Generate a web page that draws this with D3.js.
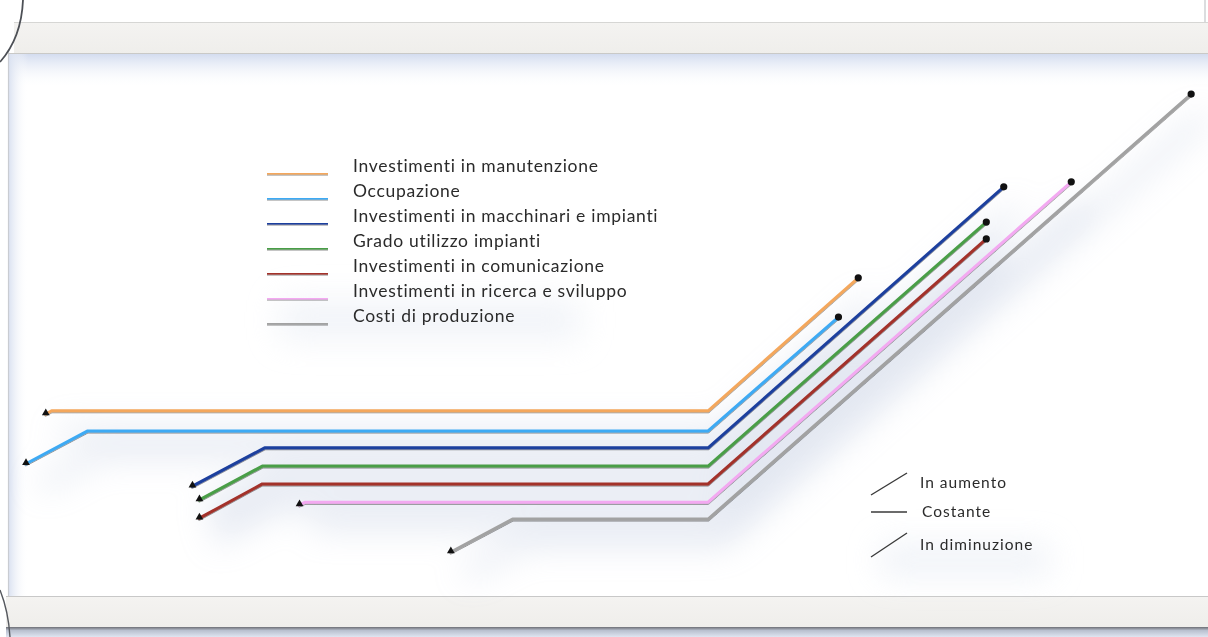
<!DOCTYPE html>
<html>
<head>
<meta charset="utf-8">
<script src="https://cdn.jsdelivr.net/npm/d3@7"></script>
<style>
  html, body { margin: 0; padding: 0; background: #fff; overflow: hidden; }
  svg { display: block; }
</style>
</head>
<body>
<svg id="chart" width="1208" height="637"></svg>
<script>
// Series: trend of each indicator (time on x, index level on y)
const seriesNames = [
  "Investimenti in manutenzione",
  "Occupazione",
  "Investimenti in macchinari e impianti",
  "Grado utilizzo impianti",
  "Investimenti in comunicazione",
  "Investimenti in ricerca e sviluppo",
  "Costi di produzione"
];
const seriesColors = ["#f4a75c", "#3eaaf4", "#1e3f9e", "#4a9e47", "#a3302a", "#f3a9f1", "#a2a2a2"];

const xManutenzione   = [1.7, 2.2, 58.6, 71.5];
const yManutenzione   = [30.2, 30.9, 30.9, 60.0];
const xOccupazione    = [0.0, 5.3, 58.6, 69.8];
const yOccupazione    = [19.3, 26.5, 26.5, 51.4];
const xMacchinari     = [14.3, 20.5, 58.6, 84.0];
const yMacchinari     = [14.4, 22.8, 22.8, 79.9];
const xGrado          = [14.9, 20.3, 58.6, 82.5];
const yGrado          = [11.4, 18.8, 18.8, 72.2];
const xComunicazione  = [14.9, 20.3, 58.6, 82.5];
const yComunicazione  = [7.4, 14.9, 14.9, 68.5];
const xRicerca        = [23.5, 24.0, 58.6, 89.8];
const yRicerca        = [10.3, 10.9, 10.9, 81.0];
const xCosti          = [36.5, 41.8, 58.6, 100.1];
const yCosti          = [0.0, 7.2, 7.2, 100.2];

const seriesX = [xManutenzione, xOccupazione, xMacchinari, xGrado, xComunicazione, xRicerca, xCosti];
const seriesY = [yManutenzione, yOccupazione, yMacchinari, yGrado, yComunicazione, yRicerca, yCosti];

const trendLabels = ["In aumento", "Costante", "In diminuzione"];

const W = 1208, H = 637;
const svg = d3.select("#chart");
const defs = svg.append("defs");

const x = d3.scaleLinear().domain([0, 100]).range([26, 1190]);
const y = d3.scaleLinear().domain([0, 100]).range([552, 95]);

// ---------- gradients & filters ----------
const gTop = defs.append("linearGradient").attr("id", "innerTop").attr("x1", 0).attr("y1", 0).attr("x2", 0).attr("y2", 1);
gTop.append("stop").attr("offset", "0%").attr("stop-color", "#d3dcef");
gTop.append("stop").attr("offset", "100%").attr("stop-color", "#ffffff").attr("stop-opacity", 0);

const gLeft = defs.append("linearGradient").attr("id", "innerLeft").attr("x1", 0).attr("y1", 0).attr("x2", 1).attr("y2", 0);
gLeft.append("stop").attr("offset", "0%").attr("stop-color", "#d8e0f0");
gLeft.append("stop").attr("offset", "100%").attr("stop-color", "#ffffff").attr("stop-opacity", 0);

const gBand = defs.append("linearGradient").attr("id", "band").attr("x1", 0).attr("y1", 0).attr("x2", 0).attr("y2", 1);
gBand.append("stop").attr("offset", "0%").attr("stop-color", "#f4f3f1");
gBand.append("stop").attr("offset", "100%").attr("stop-color", "#efeeeb");

const gBottomShade = defs.append("linearGradient").attr("id", "bottomShade").attr("x1", 0).attr("y1", 0).attr("x2", 0).attr("y2", 1);
gBottomShade.append("stop").attr("offset", "0%").attr("stop-color", "#6d6f75");
gBottomShade.append("stop").attr("offset", "35%").attr("stop-color", "#b9c0cf");
gBottomShade.append("stop").attr("offset", "100%").attr("stop-color", "#dfe5f1");

// filters use the whole canvas as region so flat (zero-height) lines still render
const fLine = defs.append("filter").attr("id", "lineShadow")
  .attr("filterUnits", "userSpaceOnUse").attr("x", 0).attr("y", 0).attr("width", W).attr("height", H);
fLine.append("feDropShadow").attr("dx", 0).attr("dy", 1).attr("stdDeviation", 0.7)
  .attr("flood-color", "#000").attr("flood-opacity", 0.45);

const fSoft = defs.append("filter").attr("id", "softShadow")
  .attr("filterUnits", "userSpaceOnUse").attr("x", 0).attr("y", 0).attr("width", W).attr("height", H);
fSoft.append("feGaussianBlur").attr("stdDeviation", 16);

const fText = defs.append("filter").attr("id", "textSoft");
fText.append("feGaussianBlur").attr("stdDeviation", 0.35);

// ---------- frame ----------
svg.append("rect").attr("width", W).attr("height", H).attr("fill", "#ffffff");

// plot panel
svg.append("rect").attr("x", 8).attr("y", 54).attr("width", W - 8).attr("height", 542).attr("fill", "#ffffff");
svg.append("rect").attr("x", 8).attr("y", 54).attr("width", W - 8).attr("height", 34).attr("fill", "url(#innerTop)");
svg.append("rect").attr("x", 8).attr("y", 54).attr("width", 20).attr("height", 542).attr("fill", "url(#innerLeft)");
svg.append("line").attr("x1", 8.5).attr("x2", 8.5).attr("y1", 50).attr("y2", 600)
  .attr("stroke", "#c9ccd2").attr("stroke-width", 1.2);

// top band
svg.append("rect").attr("x", 14).attr("y", 22).attr("width", W - 14).attr("height", 32).attr("fill", "url(#band)");
svg.append("line").attr("x1", 14).attr("x2", W).attr("y1", 22.5).attr("y2", 22.5).attr("stroke", "#d6d6d4").attr("stroke-width", 1);
svg.append("line").attr("x1", 8).attr("x2", W).attr("y1", 53.5).attr("y2", 53.5).attr("stroke", "#c9c9c7").attr("stroke-width", 1.2);

// bottom band
svg.append("rect").attr("x", 6).attr("y", 627).attr("width", W - 6).attr("height", 10).attr("fill", "url(#bottomShade)");
svg.append("rect").attr("x", 6).attr("y", 596).attr("width", W - 6).attr("height", 31).attr("fill", "url(#band)");
svg.append("line").attr("x1", 6).attr("x2", W).attr("y1", 596.5).attr("y2", 596.5).attr("stroke", "#c8c8c8").attr("stroke-width", 1.2);

// curled edges of the sheet
svg.append("path").attr("d", "M23,0 C22,24 16,44 0,62").attr("fill", "none").attr("stroke", "#4d5056").attr("stroke-width", 1.8);
svg.append("path").attr("d", "M0,590 C6,605 9,620 10,637").attr("fill", "none").attr("stroke", "#55585e").attr("stroke-width", 1.4);
svg.append("path").attr("d", "M1205,0 L1205,22").attr("fill", "none").attr("stroke", "#c4c6ca").attr("stroke-width", 1.2);

// ---------- data ----------
const series = seriesNames.map((name, i) => ({
  name,
  color: seriesColors[i],
  points: seriesX[i].map((v, j) => [v, seriesY[i][j]])
}));

const lineGen = d3.line().x(d => x(d[0])).y(d => y(d[1]));

// soft ambient shadow under the line bundle
svg.append("g").attr("filter", "url(#softShadow)").attr("opacity", 0.5)
  .selectAll("path").data(series).join("path")
  .attr("d", d => lineGen(d.points))
  .attr("transform", "translate(14,22)")
  .attr("fill", "none").attr("stroke", "#b7c3dc").attr("stroke-width", 10);

// soft shadow under the legend blocks
svg.append("rect").attr("x", 280).attr("y", 300).attr("width", 300).attr("height", 40)
  .attr("fill", "#e4e9f3").attr("opacity", 0.5).attr("filter", "url(#softShadow)");
svg.append("rect").attr("x", 880).attr("y", 545).attr("width", 170).attr("height", 30)
  .attr("fill", "#e4e9f3").attr("opacity", 0.6).attr("filter", "url(#softShadow)");

// lines
const linesG = svg.append("g").attr("filter", "url(#lineShadow)");
linesG.selectAll("path").data(series).join("path")
  .attr("d", d => lineGen(d.points))
  .attr("fill", "none")
  .attr("stroke", d => d.color)
  .attr("stroke-width", 3)
  .attr("stroke-linejoin", "round")
  .attr("stroke-linecap", "round");

// start markers (triangles) and end markers (dots)
const tri = d3.symbol().type(d3.symbolTriangle).size(26);
svg.append("g").selectAll("path").data(series).join("path")
  .attr("d", tri)
  .attr("transform", d => `translate(${x(d.points[0][0])},${y(d.points[0][1]) - 1})`)
  .attr("fill", "#111");
svg.append("g").selectAll("circle").data(series).join("circle")
  .attr("cx", d => x(d.points[d.points.length - 1][0]))
  .attr("cy", d => y(d.points[d.points.length - 1][1]))
  .attr("r", 3.6)
  .attr("fill", "#111");

// ---------- series legend ----------
const legend = svg.append("g").attr("transform", "translate(267,173)");
const rows = legend.selectAll("g").data(series).join("g")
  .attr("transform", (d, i) => `translate(0,${i * 25})`);
rows.append("line").attr("x1", 0).attr("x2", 61).attr("y1", 0).attr("y2", 0)
  .attr("stroke", d => d.color).attr("stroke-width", 3.2)
  .attr("filter", "url(#lineShadow)");
rows.append("text")
  .attr("x", 86).attr("y", -1)
  .attr("font-family", "Lato, 'Noto Sans', sans-serif")
  .attr("font-size", 17.5)
  .attr("letter-spacing", 0.7)
  .attr("fill", "#2b2b2b")
  .attr("filter", "url(#textSoft)")
  .text(d => d.name);

// ---------- trend key ----------
const keyX1 = 871, keyX2 = 907;
const keyShapes = [
  { dy1: 495, dy2: 473, ty: 488 },
  { dy1: 512, dy2: 512, ty: 517 },
  { dy1: 557, dy2: 533, ty: 550 }
];
const key = svg.append("g");
key.selectAll("line").data(trendLabels).join("line")
  .attr("x1", keyX1).attr("x2", keyX2)
  .attr("y1", (d, i) => keyShapes[i].dy1).attr("y2", (d, i) => keyShapes[i].dy2)
  .attr("stroke", "#3a3a3a").attr("stroke-width", 1.4);
key.selectAll("text").data(trendLabels).join("text")
  .attr("x", (d, i) => i === 1 ? 922 : 920)
  .attr("y", (d, i) => keyShapes[i].ty)
  .attr("font-family", "Lato, 'Noto Sans', sans-serif")
  .attr("font-size", 15.5)
  .attr("letter-spacing", 1)
  .attr("fill", "#2b2b2b")
  .attr("filter", "url(#textSoft)")
  .text(d => d);
</script>
</body>
</html>
